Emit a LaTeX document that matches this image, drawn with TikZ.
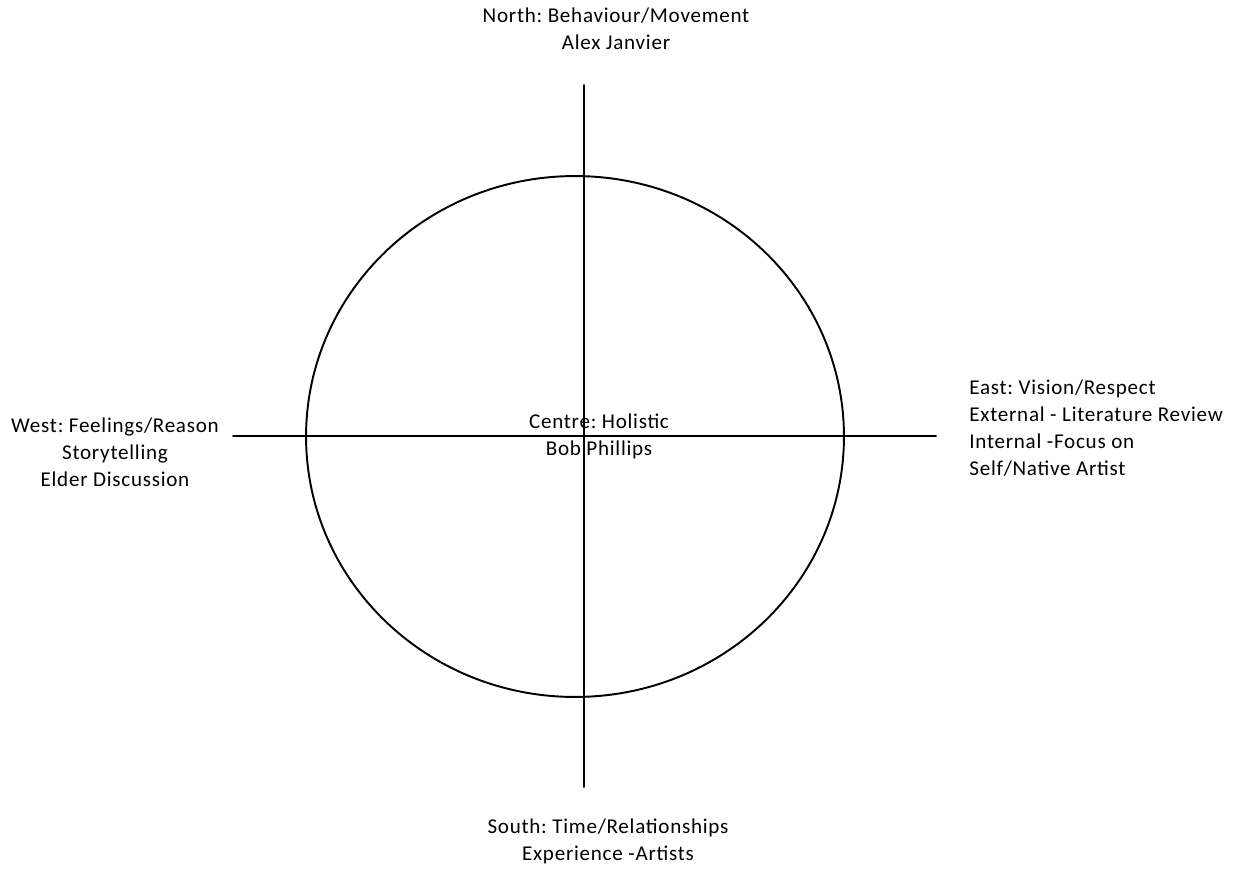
\documentclass[tikz,border=0pt]{standalone}
\usepackage{fontspec}
\setmainfont[LetterSpace=3.5]{Carlito}
\frenchspacing
\tikzset{
  axisline/.style={line width=1.1pt},
  quarter/.style={font=\fontsize{12}{15.4}\selectfont, inner sep=0pt},
}
\begin{document}
\begin{tikzpicture}[line cap=round,line join=round,x=0.02cm,y=-0.02cm]
  \useasboundingbox (0,0) rectangle (1246,869);
  % the wheel
  \draw[axisline] (575,436.5) ellipse [x radius=5.38cm, y radius=5.21cm];
  % the two axes
  \coordinate (top) at (584,85);
  \coordinate (bottom) at (584,787);
  \coordinate (left) at (233,436);
  \coordinate (right) at (936,436);
  \draw[axisline] (top) -- (bottom);
  \draw[axisline] (left) -- (right);
  % the four directions and the centre
  \node[quarter, align=center] (north) at (616,28.5) {North: Behaviour/Movement\\Alex Janvier};
  \node[quarter, align=center] (south) at (608,841.5) {South: Time/Relationships\\Experience -Artists};
  \node[quarter, align=center] (west) at (115,452) {West: Feelings/Reason\\Storytelling\\Elder Discussion};
  \node[quarter, align=left, anchor=west] (east) at (969,428) {East: Vision/Respect\\External - Literature Review\\Internal -Focus on\\Self/Native Artist};
  \node[quarter, align=center] (centre) at (599,436.5) {Centre: Holistic\\Bob Phillips};
\end{tikzpicture}
\end{document}
